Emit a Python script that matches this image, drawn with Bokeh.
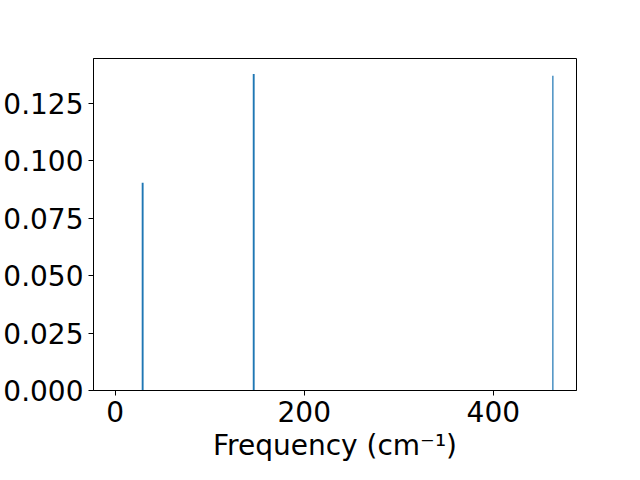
from bokeh.plotting import figure
from bokeh.models import ColumnDataSource, FixedTicker, PrintfTickFormatter, Range1d
from bokeh.embed import file_html
from bokeh.resources import INLINE

# Data
freqs = [29.0, 146.5, 463.0]          # cm^-1
intens = [0.0905, 0.1379, 0.1371]
x_ticks = [0, 200, 400]
y_ticks = [0.0, 0.025, 0.05, 0.075, 0.1, 0.125]

bar_widths = [2.0, 2.0, 1.3]

src = ColumnDataSource(dict(x=freqs, top=intens, w=bar_widths))

FONT = "DejaVu Sans"
FS = "28px"

p = figure(width=624, height=464, output_backend="svg", toolbar_location=None,
           x_range=Range1d(-23, 488), y_range=Range1d(0, 0.1446),
           min_border_top=58, min_border_right=48, min_border_left=0, min_border_bottom=0)

p.vbar(x="x", top="top", bottom=0, width="w", source=src,
       fill_color="#1f77b4", line_color=None)

p.grid.visible = False
p.outline_line_color = "black"
p.outline_line_width = 1
p.background_fill_color = "white"
p.border_fill_color = "white"

for ax in (p.xaxis[0], p.yaxis[0]):
    ax.major_label_text_font = FONT
    ax.major_label_text_font_size = FS
    ax.major_label_text_color = "black"
    ax.axis_line_color = "black"
    ax.major_tick_line_color = "black"
    ax.major_tick_out = 5
    ax.major_tick_in = 0
    ax.minor_tick_line_color = None
    ax.major_label_standoff = 5

p.xaxis.ticker = FixedTicker(ticks=x_ticks)
p.yaxis.ticker = FixedTicker(ticks=y_ticks)
p.yaxis.formatter = PrintfTickFormatter(format="%.3f")

p.xaxis.axis_label = "Frequency (cm⁻¹)"
p.xaxis.axis_label_text_font = FONT
p.xaxis.axis_label_text_font_size = FS
p.xaxis.axis_label_text_font_style = "normal"
p.xaxis.axis_label_text_color = "black"
p.xaxis.axis_label_standoff = 4

open("out.html", "w").write(file_html(p, INLINE))
